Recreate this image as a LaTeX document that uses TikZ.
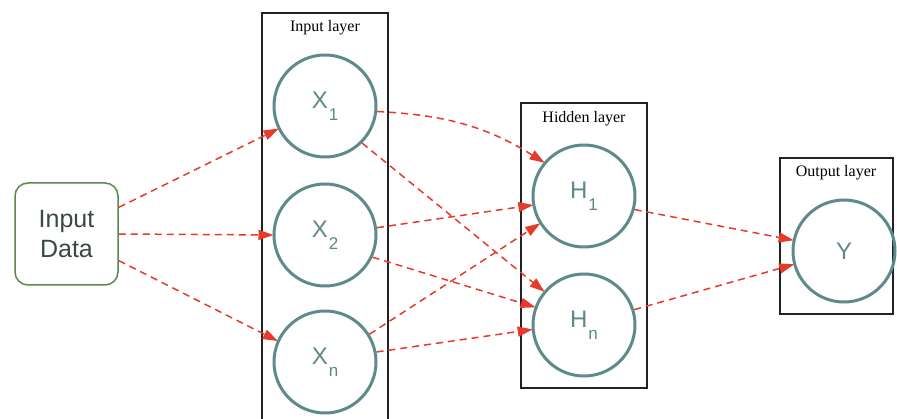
\documentclass[tikz,border=0pt]{standalone}
\usepackage{fontspec}
\setmainfont{Liberation Serif}
\setsansfont{Liberation Sans}
\usetikzlibrary{arrows.meta}
\definecolor{nodeteal}{RGB}{94,138,140}
\definecolor{nodetext}{RGB}{96,136,138}
\definecolor{datagreen}{RGB}{88,138,72}
\definecolor{datatext}{RGB}{58,72,72}
\definecolor{linkred}{RGB}{230,58,42}
\definecolor{boxline}{RGB}{34,34,34}
\tikzset{
  neuron/.style={circle, draw=nodeteal, line width=3pt, minimum size=102pt, inner sep=0pt,
    text=nodetext, font=\sffamily\fontsize{24}{24}\selectfont},
  databox/.style={draw=datagreen, line width=1.5pt, rounded corners=13pt,
    minimum width=103pt, minimum height=102pt, inner sep=0pt, align=center,
    text=datatext, font=\sffamily\fontsize{25}{30}\selectfont},
  layerbox/.style={draw=boxline, line width=1.3pt},
  layerlabel/.style={font=\rmfamily\fontsize{16}{16}\selectfont, text=black},
  link/.style={draw=linkred, line width=1.5pt, dash pattern=on 7pt off 5pt,
    -{Triangle[length=15pt,width=10pt,fill=linkred]}, shorten >=-1pt},
}
% lowered index after a node letter
\newcommand{\nsub}[1]{\hspace{1pt}\raisebox{-12pt}{\fontsize{17}{17}\selectfont #1}}
\begin{document}
\begin{tikzpicture}[x=1pt,y=1pt]
  \useasboundingbox (0,0) rectangle (897,418);
  \clip (0,0) rectangle (897,418);
  \fill[white] (0,0) rectangle (897,418);

  % layer frames
  \draw[layerbox] (262,405) rectangle (388,-20);
  \draw[layerbox] (521,315) rectangle (647,30);
  \draw[layerbox] (780,260) rectangle (893,104);
  \node[layerlabel] (lin) at (325,390) {Input layer};
  \node[layerlabel] (lhid) at (584,299) {Hidden layer};
  \node[layerlabel] (lout) at (836,245) {Output layer};

  % nodes
  \node[databox] (data) at (66.5,184) {Input\\Data};
  \node[neuron] (x1) at (325,312) {X\nsub{1}};
  \node[neuron] (x2) at (325,183) {X\nsub{2}};
  \node[neuron] (xn) at (325,56) {X\nsub{n}};
  \node[neuron] (h1) at (584,222) {H\nsub{1}};
  \node[neuron] (hn) at (584,93) {H\nsub{n}};
  \node[neuron] (y) at (844,167) {Y};

  % connections
  \draw[link] (data.27) -- (x1.206);
  \draw[link] (data.east) -- (x2.west);
  \draw[link] (data.-27) -- (xn.156);

  \draw[link] (x1.-6) to[out=-3,in=148] (h1.140);
  \draw[link] (x1.-45) -- (hn.140);
  \draw[link] (x2.8) -- (h1.190);
  \draw[link] (x2.-25) -- (hn.160);
  \draw[link] (xn.32) -- (h1.212);
  \draw[link] (xn.11) -- (hn.185);

  \draw[link] (h1.-15) -- (y.168);
  \draw[link] (hn.17) -- (y.195);
\end{tikzpicture}
\end{document}
